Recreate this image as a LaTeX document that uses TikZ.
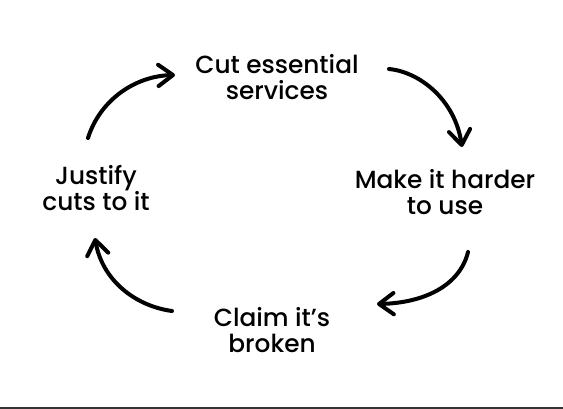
\documentclass[tikz,border=0pt]{standalone}
\usepackage{fontspec}
\setmainfont{Poppins Medium}
\usetikzlibrary{positioning}
\usetikzlibrary{arrows.meta}

\begin{document}
\begin{tikzpicture}[x=0.75pt,y=-0.75pt,
            step text/.style={align=center, inner sep=0pt, font=\fontsize{18.6}{19.5}\selectfont},
            cycle arrow/.style={line width=3pt, line cap=round,
                -{Straight Barb[length=11pt,width=16pt,round]}}]
        \useasboundingbox (0,0) rectangle (563,409);
        \node[step text] (cut) at (277,77) {Cut essential\\services};
        \node[step text] (harder) at (445,192) {Make it harder\\to use};
        \node[step text] (broken) at (272,330) {Claim it’s\\broken};
        \node[step text] (justify) at (96,188) {Justify\\cuts to it};
        % arrow ends
        \coordinate (a1) at (88,138);
        \coordinate (b1) at (175,75);
        \coordinate (a2) at (389,69);
        \coordinate (b2) at (462,147);
        \coordinate (a3) at (468,252);
        \coordinate (b3) at (377,304);
        \coordinate (a4) at (172,311);
        \coordinate (b4) at (95,238);
        \draw[cycle arrow] (a1) .. controls (100,100) and (135,76) .. (b1);
        \draw[cycle arrow] (a2) .. controls (420,72) and (455,100) .. (b2);
        \draw[cycle arrow] (a3) .. controls (460,285) and (425,303) .. (b3);
        \draw[cycle arrow] (a4) .. controls (135,306) and (102,280) .. (b4);
        % cut-off rule at the bottom
        \coordinate (r1) at (0,408);
        \coordinate (r2) at (563,408);
        \draw[line width=1.5pt, black!80] (r1) -- (r2);
\end{tikzpicture}
\end{document}
